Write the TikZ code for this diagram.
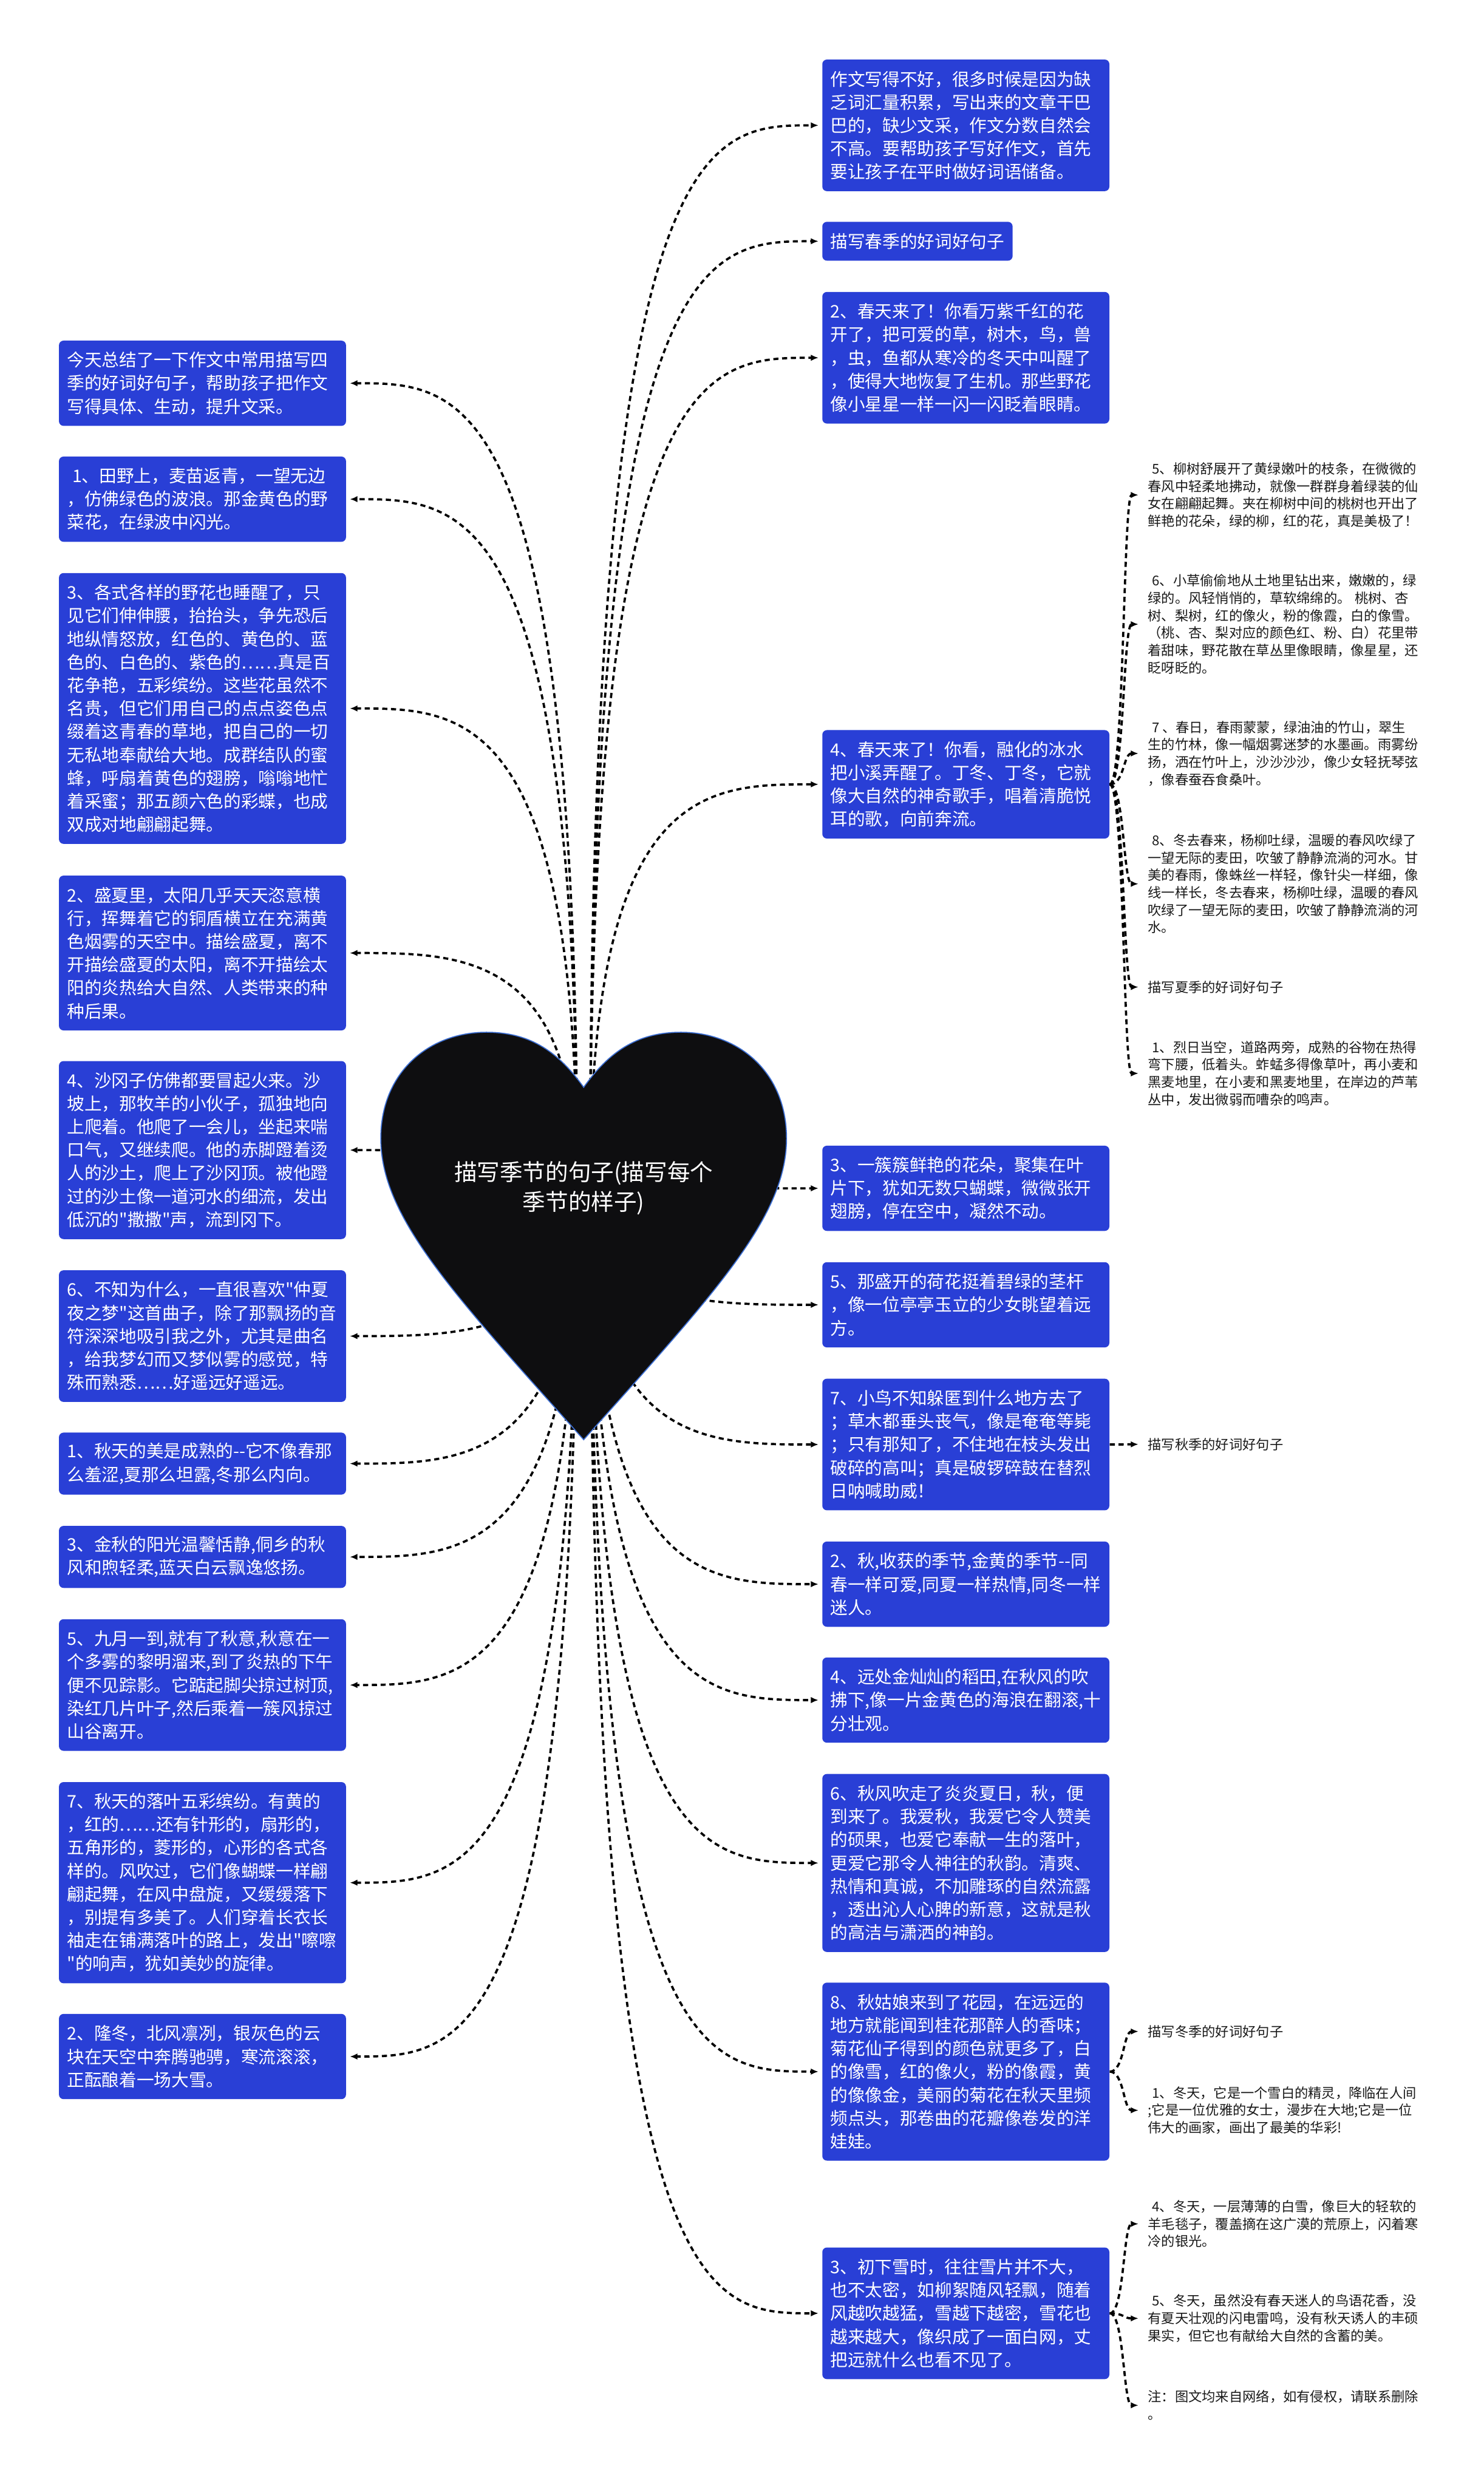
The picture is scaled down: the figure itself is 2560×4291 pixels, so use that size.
\documentclass[tikz,border=0pt]{standalone}
\usepackage{fontspec}
\newfontfamily\cjkfont{Noto Sans CJK SC}
\usetikzlibrary{arrows.meta,calc}
\definecolor{boxblue}{RGB}{41,63,214}
\definecolor{heartfill}{RGB}{14,14,16}
\definecolor{heartedge}{RGB}{60,110,210}
\definecolor{leaftext}{RGB}{25,25,25}
\begin{document}
\begin{tikzpicture}[x=0.01cm,y=-0.01cm,
  bluebox/.style={fill=boxblue, text=white, rounded corners=0.08cm, anchor=north west,
    align=left, text width=4.67cm, inner xsep=0.14cm, inner ysep=0cm,
    font=\cjkfont\fontsize{8.54pt}{11.38pt}\selectfont},
  shortbox/.style={fill=boxblue, text=white, rounded corners=0.08cm, anchor=north west,
    inner xsep=0.14cm, inner ysep=0cm, minimum height=0.67cm,
    font=\cjkfont\fontsize{8.54pt}{11.38pt}\selectfont},
  leaf/.style={anchor=west, align=left, inner xsep=0pt, inner ysep=0.02cm, text=leaftext,
    font=\cjkfont\fontsize{6.63pt}{8.54pt}\selectfont},
  conn/.style={draw=black, line width=1.1pt, dash pattern=on 2.5pt off 1.8pt,
    -{Latex[length=0.13cm,width=0.11cm]}, shorten >=0.06cm},
  leafconn/.style={conn, shorten >=0.16cm}
]
\fill[white] (0,0) rectangle (2560,4291);
\useasboundingbox (0,0) rectangle (2560,4291);

% ---------- left boxes ----------
\node[bluebox, minimum height=1.47cm] (L1) at (101,587) {今天总结了一下作文中常用描写四\\季的好词好句子，帮助孩子把作文\\写得具体、生动，提升文采。};
\node[bluebox, minimum height=1.47cm] (L2) at (101,787) {\hspace*{0.3em}1、田野上，麦苗返青，一望无边\\，仿佛绿色的波浪。那金黄色的野\\菜花，在绿波中闪光。};
\node[bluebox, minimum height=4.67cm] (L3) at (101,988) {3、各式各样的野花也睡醒了，只\\见它们伸伸腰，抬抬头，争先恐后\\地纵情怒放，红色的、黄色的、蓝\\色的、白色的、紫色的……真是百\\花争艳，五彩缤纷。这些花虽然不\\名贵，但它们用自己的点点姿色点\\缀着这青春的草地，把自己的一切\\无私地奉献给大地。成群结队的蜜\\蜂，呼扇着黄色的翅膀，嗡嗡地忙\\着采蜜；那五颜六色的彩蝶，也成\\双成对地翩翩起舞。};
\node[bluebox, minimum height=2.67cm] (L4) at (101,1510) {2、盛夏里，太阳几乎天天恣意横\\行，挥舞着它的铜盾横立在充满黄\\色烟雾的天空中。描绘盛夏，离不\\开描绘盛夏的太阳，离不开描绘太\\阳的炎热给大自然、人类带来的种\\种后果。};
\node[bluebox, minimum height=3.07cm] (L5) at (101,1830) {4、沙冈子仿佛都要冒起火来。沙\\坡上，那牧羊的小伙子，孤独地向\\上爬着。他爬了一会儿，坐起来喘\\口气，又继续爬。他的赤脚蹬着烫\\人的沙土，爬上了沙冈顶。被他蹬\\过的沙土像一道河水的细流，发出\\低沉的"撒撒"声，流到冈下。};
\node[bluebox, minimum height=2.27cm] (L6) at (101,2191) {6、不知为什么，一直很喜欢"仲夏\\夜之梦"这首曲子，除了那飘扬的音\\符深深地吸引我之外，尤其是曲名\\，给我梦幻而又梦似雾的感觉，特\\殊而熟悉……好遥远好遥远。};
\node[bluebox, minimum height=1.07cm] (L7) at (101,2471) {1、秋天的美是成熟的--它不像春那\\么羞涩,夏那么坦露,冬那么内向。};
\node[bluebox, minimum height=1.07cm] (L8) at (101,2632) {3、金秋的阳光温馨恬静,侗乡的秋\\风和煦轻柔,蓝天白云飘逸悠扬。};
\node[bluebox, minimum height=2.27cm] (L9) at (101,2793) {5、九月一到,就有了秋意,秋意在一\\个多雾的黎明溜来,到了炎热的下午\\便不见踪影。它踮起脚尖掠过树顶,\\染红几片叶子,然后乘着一簇风掠过\\山谷离开。};
\node[bluebox, minimum height=3.47cm] (L10) at (101,3074) {7、秋天的落叶五彩缤纷。有黄的\\，红的……还有针形的，扇形的，\\五角形的，菱形的，心形的各式各\\样的。风吹过，它们像蝴蝶一样翩\\翩起舞，在风中盘旋，又缓缓落下\\，别提有多美了。人们穿着长衣长\\袖走在铺满落叶的路上，发出"嚓嚓\\"的响声，犹如美妙的旋律。};
\node[bluebox, minimum height=1.47cm] (L11) at (101,3474) {2、隆冬，北风凛冽，银灰色的云\\块在天空中奔腾驰骋，寒流滚滚，\\正酝酿着一场大雪。};

% ---------- right boxes ----------
\node[bluebox, minimum height=2.27cm] (R1) at (1418,102) {作文写得不好，很多时候是因为缺\\乏词汇量积累，写出来的文章干巴\\巴的，缺少文采，作文分数自然会\\不高。要帮助孩子写好作文，首先\\要让孩子在平时做好词语储备。};
\node[shortbox] (R2) at (1418,382) {描写春季的好词好句子};
\node[bluebox, minimum height=2.27cm] (R3) at (1418,503) {2、春天来了！你看万紫千红的花\\开了，把可爱的草，树木，鸟，兽\\，虫，鱼都从寒冷的冬天中叫醒了\\，使得大地恢复了生机。那些野花\\像小星星一样一闪一闪眨着眼睛。};
\node[bluebox, minimum height=1.87cm] (R4) at (1418,1259) {4、春天来了！你看，融化的冰水\\把小溪弄醒了。丁冬、丁冬，它就\\像大自然的神奇歌手，唱着清脆悦\\耳的歌，向前奔流。};
\node[bluebox, minimum height=1.47cm] (R5) at (1418,1976) {3、一簇簇鲜艳的花朵，聚集在叶\\片下，犹如无数只蝴蝶，微微张开\\翅膀，停在空中，凝然不动。};
\node[bluebox, minimum height=1.47cm] (R6) at (1418,2177) {5、那盛开的荷花挺着碧绿的茎杆\\，像一位亭亭玉立的少女眺望着远\\方。};
\node[bluebox, minimum height=2.27cm] (R7) at (1418,2378) {7、小鸟不知躲匿到什么地方去了\\；草木都垂头丧气，像是奄奄等毙\\；只有那知了，不住地在枝头发出\\破碎的高叫；真是破锣碎鼓在替烈\\日呐喊助威！};
\node[bluebox, minimum height=1.47cm] (R8) at (1418,2659) {2、秋,收获的季节,金黄的季节--同\\春一样可爱,同夏一样热情,同冬一样\\迷人。};
\node[bluebox, minimum height=1.47cm] (R9) at (1418,2859) {4、远处金灿灿的稻田,在秋风的吹\\拂下,像一片金黄色的海浪在翻滚,十\\分壮观。};
\node[bluebox, minimum height=3.07cm] (R10) at (1418,3060) {6、秋风吹走了炎炎夏日，秋，便\\到来了。我爱秋，我爱它令人赞美\\的硕果，也爱它奉献一生的落叶，\\更爱它那令人神往的秋韵。清爽、\\热情和真诚，不加雕琢的自然流露\\，透出沁人心脾的新意，这就是秋\\的高洁与潇洒的神韵。};
\node[bluebox, minimum height=3.07cm] (R11) at (1418,3420) {8、秋姑娘来到了花园，在远远的\\地方就能闻到桂花那醉人的香味；\\菊花仙子得到的颜色就更多了，白\\的像雪，红的像火，粉的像霞，黄\\的像像金，美丽的菊花在秋天里频\\频点头，那卷曲的花瓣像卷发的洋\\娃娃。};
\node[bluebox, minimum height=2.27cm] (R12) at (1418,3877) {3、初下雪时，往往雪片并不大，\\也不太密，如柳絮随风轻飘，随着\\风越吹越猛，雪越下越密，雪花也\\越来越大，像织成了一面白网，丈\\把远就什么也看不见了。};

% ---------- far right leaves ----------
\node[leaf] (T1) at (1980,854) {\hspace*{0.3em}5、柳树舒展开了黄绿嫩叶的枝条，在微微的\\春风中轻柔地拂动，就像一群群身着绿装的仙\\女在翩翩起舞。夹在柳树中间的桃树也开出了\\鲜艳的花朵，绿的柳，红的花，真是美极了！};
\node[leaf] (T2) at (1980,1077) {\hspace*{0.3em}6、小草偷偷地从土地里钻出来，嫩嫩的，绿\\绿的。风轻悄悄的，草软绵绵的。\hspace{0.3em}桃树、杏\\树、梨树，红的像火，粉的像霞，白的像雪。\\（桃、杏、梨对应的颜色红、粉、白）花里带\\着甜味，野花散在草丛里像眼睛，像星星，还\\眨呀眨的。};
\node[leaf] (T3) at (1980,1300) {\hspace*{0.3em}7\hspace{0.2em}、春日，春雨蒙蒙，绿油油的竹山，翠生\\生的竹林，像一幅烟雾迷梦的水墨画。雨雾纷\\扬，洒在竹叶上，沙沙沙沙，像少女轻抚琴弦\\，像春蚕吞食桑叶。};
\node[leaf] (T4) at (1980,1525) {\hspace*{0.3em}8、冬去春来，杨柳吐绿，温暖的春风吹绿了\\一望无际的麦田，吹皱了静静流淌的河水。甘\\美的春雨，像蛛丝一样轻，像针尖一样细，像\\线一样长，冬去春来，杨柳吐绿，温暖的春风\\吹绿了一望无际的麦田，吹皱了静静流淌的河\\水。};
\node[leaf] (T5) at (1980,1703) {描写夏季的好词好句子};
\node[leaf] (T6) at (1980,1852) {\hspace*{0.3em}1、烈日当空，道路两旁，成熟的谷物在热得\\弯下腰，低着头。蚱蜢多得像草叶，再小麦和\\黑麦地里，在小麦和黑麦地里，在岸边的芦苇\\丛中，发出微弱而嘈杂的鸣声。};
\node[leaf] (T7) at (1980,2492) {描写秋季的好词好句子};
\node[leaf] (T8) at (1980,3505) {描写冬季的好词好句子};
\node[leaf] (T9) at (1980,3641) {\hspace*{0.3em}1、冬天，它是一个雪白的精灵，降临在人间\\;它是一位优雅的女士，漫步在大地;它是一位\\伟大的画家，画出了最美的华彩!};
\node[leaf] (T10) at (1980,3837) {\hspace*{0.3em}4、冬天，一层薄薄的白雪，像巨大的轻软的\\羊毛毯子，覆盖摘在这广漠的荒原上，闪着寒\\冷的银光。};
\node[leaf] (T11) at (1980,4000) {\hspace*{0.3em}5、冬天，虽然没有春天迷人的鸟语花香，没\\有夏天壮观的闪电雷鸣，没有秋天诱人的丰硕\\果实，但它也有献给大自然的含蓄的美。};
\node[leaf] (T12) at (1980,4150) {注：图文均来自网络，如有侵权，请联系删除\\。};

% ---------- connectors from the heart ----------
\coordinate (root) at (1007,2050);
\coordinate (rootL) at (996,2050);
\coordinate (rootR) at (1018,2050);
\foreach \b in {L1,L2,L3,L4,L5,L6,L7,L8,L9,L10,L11}
  \draw[conn] (rootL) .. controls (rootL |- \b.east) and ($(rootL |- \b.east)!0.5!(\b.east)$) .. (\b.east);
\foreach \b in {R1,R2,R3,R4,R5,R6,R7,R8,R9,R10,R11,R12}
  \draw[conn] (rootR) .. controls (rootR |- \b.west) and ($(rootR |- \b.west)!0.5!(\b.west)$) .. (\b.west);

% ---------- connectors to leaves ----------
\foreach \t in {T1,T2,T3,T4,T5,T6}
  \draw[leafconn] (R4.east) .. controls +(25,0) and +(-42,0) .. (\t.west);
\draw[leafconn] (R7.east) .. controls +(25,0) and +(-42,0) .. (T7.west);
\foreach \t in {T8,T9}
  \draw[leafconn] (R11.east) .. controls +(25,0) and +(-42,0) .. (\t.west);
\foreach \t in {T10,T11,T12}
  \draw[leafconn] (R12.east) .. controls +(25,0) and +(-42,0) .. (\t.west);

% ---------- heart ----------
\path[fill=heartfill, draw=heartedge, line width=0.5pt]
  (1007,1876) .. controls (960,1810) and (910,1781) .. (839,1781)
  .. controls (740,1781) and (657,1850) .. (657,1964)
  .. controls (657,2100) and (780,2230) .. (1007,2484)
  .. controls (1234,2230) and (1357,2100) .. (1357,1964)
  .. controls (1357,1850) and (1274,1781) .. (1175,1781)
  .. controls (1104,1781) and (1054,1810) .. (1007,1876) -- cycle;
\node[text=white, align=center, font=\cjkfont\fontsize{11.2pt}{14.8pt}\selectfont] (roottext) at (root) {描写季节的句子(描写每个\\季节的样子)};
\end{tikzpicture}
\end{document}
